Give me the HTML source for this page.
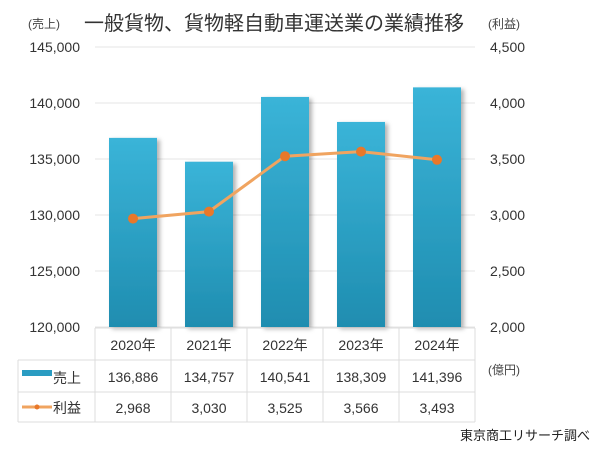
<!DOCTYPE html>
<html><head><meta charset="utf-8"><style>
body{margin:0;background:#fff;}
svg text{font-family:"Liberation Sans","Noto Sans CJK JP",sans-serif;}
</style></head><body>
<svg width="600" height="448" viewBox="0 0 600 448">
<defs>
<linearGradient id="bg" x1="0" y1="0" x2="0" y2="1"><stop offset="0" stop-color="#3ab4d8"/><stop offset="1" stop-color="#1f8db0"/></linearGradient>
<filter id="sh" x="-20%" y="-5%" width="150%" height="115%"><feDropShadow dx="3" dy="2" stdDeviation="2" flood-color="#000" flood-opacity="0.3"/></filter>
</defs>
<text x="28" y="28" font-size="12" fill="#444">(売上)</text>
<text x="84" y="30" font-size="20" fill="#333">一般貨物、貨物軽自動車運送業の業績推移</text>
<text x="488" y="28" font-size="12" fill="#444">(利益)</text>
<g id="grid"></g><g id="bars"></g><g id="line"></g><g id="axes"></g><g id="table"></g>
<text x="488" y="374" font-size="12" fill="#444">(億円)</text>
<text x="590" y="440" font-size="13" fill="#222" text-anchor="end">東京商工リサーチ調べ</text>
</svg>
<script>
const categories=["2020年","2021年","2022年","2023年","2024年"];
const sales=[136886,134757,140541,138309,141396];
const profit=[2968,3030,3525,3566,3493];
const leftTicks=[120000,125000,130000,135000,140000,145000];
const rightTicks=[2000,2500,3000,3500,4000,4500];
const NS="http://www.w3.org/2000/svg";
const X0=95,CW=76,YT=47,YB=327;
const yL=v=>YB-(v-120000)/25000*(YB-YT);
const yR=v=>YB-(v-2000)/2500*(YB-YT);
const xc=i=>X0+CW*i+CW/2;
const fmt=v=>v.toLocaleString("en-US");
function mk(t,a,p,txt){const e=document.createElementNS(NS,t);for(const k in a)e.setAttribute(k,a[k]);if(txt!=null)e.textContent=txt;document.getElementById(p).appendChild(e);return e;}
leftTicks.forEach((v,i)=>{
 const g=mk("line",{x1:X0,x2:X0+CW*5,y1:yL(v),y2:yL(v),stroke:"#e4e4e4"},"grid");
 
 
 const t=mk("text",{x:80,y:yL(v)+5,"font-size":14,fill:"#333","text-anchor":"end"},"axes",fmt(v));
 
 
});
rightTicks.forEach(v=>{
 const t=mk("text",{x:490,y:yR(v)+5,"font-size":14,fill:"#333"},"axes",fmt(v));
 
 
});
sales.forEach((v,i)=>{
 const r=mk("rect",{x:xc(i)-24,y:yL(v),width:48,height:YB-yL(v),fill:"url(#bg)",filter:"url(#sh)"},"bars");
 
 
});
const pl=mk("polyline",{points:profit.map((v,i)=>xc(i)+","+yR(v)).join(" "),fill:"none",stroke:"#f0a460",'stroke-width':3},"line");


profit.forEach((v,i)=>{
 const c=mk("circle",{cx:xc(i),cy:yR(v),r:5,fill:"#e8782a"},"line");
 
 
});
// table
const rows=[328,360,392,422];
const tl=[["line",{x1:X0,x2:X0+CW*5,y1:328,y2:328}],["line",{x1:18,x2:X0+CW*5,y1:360,y2:360}],["line",{x1:18,x2:X0+CW*5,y1:392,y2:392}],["line",{x1:18,x2:X0+CW*5,y1:422,y2:422}],["line",{x1:18,x2:18,y1:360,y2:422}]];
for(let i=0;i<=5;i++)tl.push(["line",{x1:X0+CW*i,x2:X0+CW*i,y1:328,y2:422}]);
tl.forEach(([t,a])=>{a.stroke="#dcdcdc";const e=mk(t,a,"table");
 
 });
categories.forEach((c,i)=>{
 const t=mk("text",{x:xc(i),y:350,"font-size":14,fill:"#333","text-anchor":"middle"},"table",c);
 
 
 const a=mk("text",{x:xc(i),y:382,"font-size":14,fill:"#333","text-anchor":"middle"},"table",fmt(sales[i]));
 
 
 const b=mk("text",{x:xc(i),y:413,"font-size":14,fill:"#333","text-anchor":"middle"},"table",fmt(profit[i]));
 
 
});
const k1=mk("rect",{x:22,y:370,width:30,height:6,fill:"#2a9cc2"},"table");


const l1=mk("text",{x:53,y:383,"font-size":14,fill:"#333"},"table","売上");


const k2=mk("line",{x1:22,x2:52,y1:407,y2:407,stroke:"#f0a460","stroke-width":3},"table");


const k3=mk("circle",{cx:37,cy:407,r:2.5,fill:"#e8782a"},"table");


const l2=mk("text",{x:53,y:413,"font-size":14,fill:"#333"},"table","利益");


</script>
</body></html>
